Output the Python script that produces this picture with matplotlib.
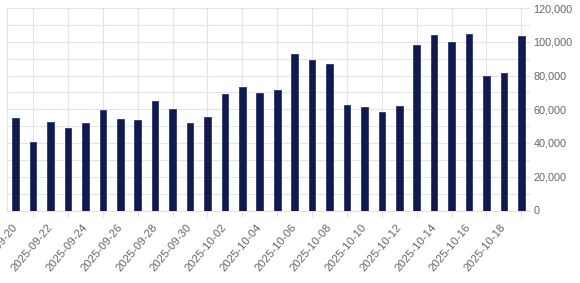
import pandas as pd
import matplotlib.pyplot as plt
from matplotlib.ticker import FuncFormatter, MultipleLocator, FixedLocator

plt.rcParams['font.family'] = ['Liberation Sans', 'DejaVu Sans']

# Daily values
dates = pd.date_range('2025-09-20', '2025-10-19', freq='D').strftime('%Y-%m-%d').tolist()
values = [55000, 40800, 52300, 49100, 51700, 59400, 54200, 53600, 64900, 60300,
          51900, 55200, 68900, 73000, 69800, 71400, 92700, 89400, 86800, 62500,
          61200, 58400, 62100, 97900, 104200, 99700, 104800, 79700, 81700, 103200]
y_ticks = [0, 20000, 40000, 60000, 80000, 100000, 120000]

grid_color = '#e4e4e4'
label_color = '#666666'

fig = plt.figure(figsize=(5.8, 2.83), dpi=100)
ax = fig.add_axes([7 / 580, 72.5 / 283, 523 / 580, 202.5 / 283])

x = list(range(len(dates)))
ax.bar(x, values, width=0.38, color='#111a4c', edgecolor='#2b3573', linewidth=0.6, zorder=3)

ax.set_xlim(-0.5, len(dates) - 0.5)
ax.set_ylim(0, 120000)

# horizontal grid every 10k, labels every 20k on the right
ax.yaxis.tick_right()
ax.yaxis.set_major_locator(FixedLocator(y_ticks))
ax.yaxis.set_minor_locator(MultipleLocator(10000))
ax.yaxis.set_major_formatter(FuncFormatter(lambda v, p: f'{int(v):,}'))
ax.tick_params(axis='y', which='both', length=0, pad=2.5, labelsize=7.8, labelcolor=label_color)
for lbl in ax.get_yticklabels():
    lbl.set_horizontalalignment('left')
ax.grid(axis='y', which='both', color=grid_color, linewidth=0.8)

# vertical grid + tick marks on odd days, labels on even days
ax.xaxis.set_major_locator(FixedLocator(x[1::2]))
ax.xaxis.set_major_formatter(FuncFormatter(lambda v, p: ''))
ax.xaxis.set_minor_locator(FixedLocator(x[0::2]))
ax.set_xticklabels(dates[0::2], minor=True)
ax.tick_params(axis='x', which='major', length=4, color=grid_color, width=0.8)
ax.tick_params(axis='x', which='minor', length=0, pad=11, labelsize=8.2, labelcolor=label_color)
for lbl in ax.get_xticklabels(minor=True):
    lbl.set_rotation(50)
    lbl.set_rotation_mode('anchor')
    lbl.set_horizontalalignment('right')
    lbl.set_verticalalignment('center')
ax.grid(axis='x', which='major', color=grid_color, linewidth=0.8)

for side in ['top', 'right']:
    ax.spines[side].set_visible(False)
for side in ['left', 'bottom']:
    ax.spines[side].set_color(grid_color)
    ax.spines[side].set_linewidth(0.8)
ax.set_axisbelow(True)

fig.savefig('out.png', dpi=100)
